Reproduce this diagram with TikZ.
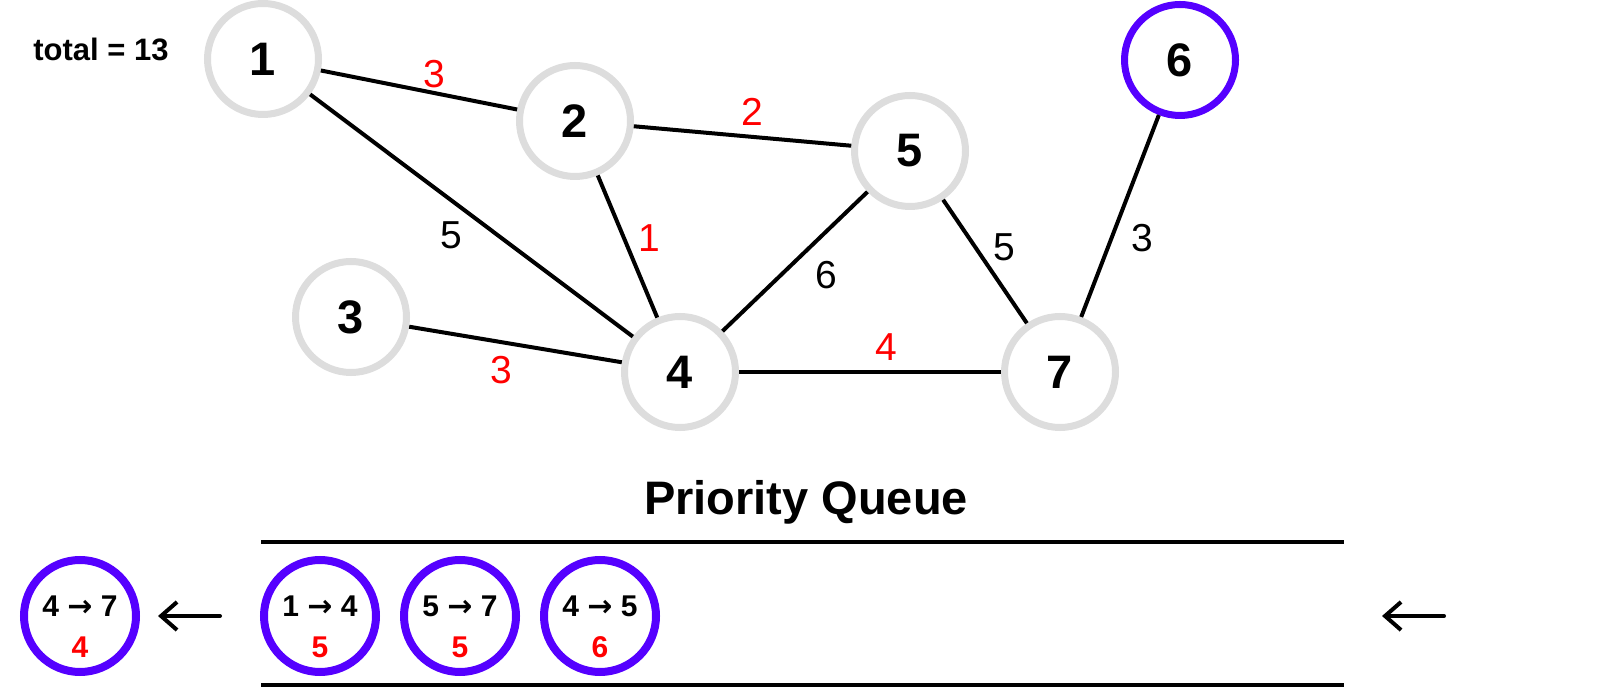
\documentclass[tikz,border=0pt]{standalone}
\usepackage{fontspec}
\setmainfont{Liberation Sans}
\newfontfamily\arrowfont{DejaVu Sans}
\usetikzlibrary{arrows.meta}
\definecolor{vgray}{HTML}{DDDDDD}
\definecolor{qpurple}{HTML}{5500FF}
\definecolor{wred}{HTML}{FF0000}
\tikzset{
  vertex/.style={draw=vgray, line width=3.5pt, circle, fill=white, minimum size=55.5pt, inner sep=0pt, font=\fontsize{23.5}{28}\selectfont\bfseries},
  picked/.style={draw=qpurple},
  edge/.style={line width=2pt},
  weight/.style={font=\fontsize{19.5}{24}\selectfont, inner sep=0pt},
  redw/.style={weight, text=wred},
  qcircle/.style={draw=qpurple, line width=4pt, circle, minimum size=56pt, inner sep=0pt},
  qtext/.style={font=\fontsize{15}{18}\selectfont\bfseries, inner sep=0pt, anchor=base},
  rail/.style={line width=2pt},
  pointer/.style={line width=2pt, line cap=round, -{Straight Barb[length=8pt,width=14pt]}},
}
\begin{document}
\begin{tikzpicture}[x=0.5pt, y=-0.5pt]
\useasboundingbox (0,0) rectangle (1604,688);

\node[font=\fontsize{15.5}{18}\selectfont\bfseries] (total) at (101,49) {total = 13};

% graph
\node[vertex] (n1) at (263,59) {1};
\node[vertex] (n2) at (575,121) {2};
\node[vertex] (n3) at (351,317) {3};
\node[vertex] (n4) at (680,372) {4};
\node[vertex] (n5) at (910,151) {5};
\node[vertex, picked] (n6) at (1180,60) {6};
\node[vertex] (n7) at (1060,372) {7};

\draw[edge] (n1) -- (n2);
\draw[edge] (n1) -- (n4);
\draw[edge] (n2) -- (n5);
\draw[edge] (n2) -- (n4);
\draw[edge] (n3) -- (n4);
\draw[edge] (n5) -- (n4);
\draw[edge] (n5) -- (n7);
\draw[edge] (n4) -- (n7);
\draw[edge] (n6) -- (n7);

\node[redw] (w12) at (434,74) {3};
\node[redw] (w25) at (752,112) {2};
\node[weight] (w14) at (451,235) {5};
\node[redw] (w24) at (649,238) {1};
\node[weight] (w54) at (826,275) {6};
\node[weight] (w57) at (1004,247) {5};
\node[weight] (w67) at (1142,238) {3};
\node[redw] (w34) at (501,370) {3};
\node[redw] (w47) at (886,347) {4};

% queue
\node[font=\fontsize{23.5}{28}\selectfont\bfseries, anchor=base] (pq) at (806,515) {Priority Queue};
\draw[rail] (261,542) -- (1344,542);
\draw[rail] (261,685) -- (1344,685);

\foreach \n/\x/\a/\b/\w in {q47/80/4/7/4, q14/320/1/4/5, q57/460/5/7/5, q45/600/4/5/6}{
  \node[qcircle] (\n) at (\x,616) {};
  \node[qtext] (\n-e) at (\x,617) {{\a} {\arrowfont\fontsize{15}{18}\selectfont→} {\b}};
  \node[qtext, text=wred] (\n-w) at (\x,657) {\w};
}

\coordinate (inS) at (1444,616);
\coordinate (inT) at (1382,616);
\coordinate (outS) at (220,616);
\coordinate (outT) at (158,616);
\draw[pointer] (inS) -- (inT);
\draw[pointer] (outS) -- (outT);
\end{tikzpicture}
\end{document}
